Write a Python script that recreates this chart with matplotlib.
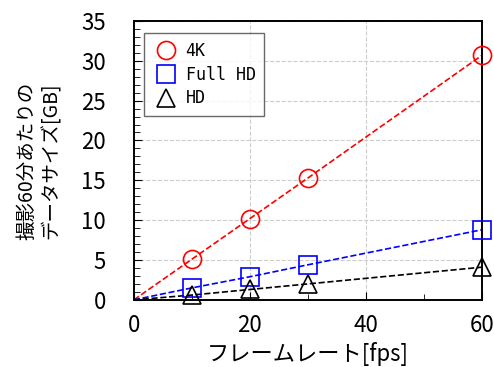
import matplotlib
matplotlib.use('Agg')
import matplotlib.pyplot as plt
from matplotlib.ticker import MultipleLocator

plt.rcParams['font.family'] = ['Noto Sans CJK JP', 'DejaVu Sans']

# Data
fps = [10, 20, 30, 60]
size_4k = [5.1, 10.2, 15.3, 30.7]
size_fhd = [1.5, 2.9, 4.4, 8.8]
size_hd = [0.6, 1.3, 2.0, 4.1]

series = [
    ('4K', size_4k, 'red', 'o'),
    ('Full HD', size_fhd, 'blue', 's'),
    ('HD', size_hd, 'black', '^'),
]

fig = plt.figure(figsize=(4.94, 3.67), dpi=100)
ax = fig.add_axes([0.271, 0.183, 0.705, 0.76])

for label, vals, color, marker in series:
    # dashed fit line through the origin
    ax.plot([0] + fps, [0] + vals, linestyle='--', color=color, linewidth=1.2)
    ax.plot(fps, vals, linestyle='none', marker=marker, markersize=13,
            markerfacecolor='none', markeredgecolor=color, markeredgewidth=1.2,
            label=label, clip_on=False, zorder=5)

ax.set_xlim(0, 60)
ax.set_ylim(0, 35)
ax.xaxis.set_major_locator(MultipleLocator(20))
ax.xaxis.set_minor_locator(MultipleLocator(10))
ax.yaxis.set_major_locator(MultipleLocator(5))
ax.yaxis.set_minor_locator(MultipleLocator(1))
ax.tick_params(which='both', direction='in', top=False, right=False)
ax.tick_params(which='major', length=6, labelsize=16)
ax.tick_params(axis='y', which='major', pad=20)
ax.tick_params(axis='x', which='major', pad=10)
ax.tick_params(which='minor', length=4)
ax.grid(True, which='major', linestyle='--', color='#cccccc', linewidth=0.8)
for s in ax.spines.values():
    s.set_linewidth(1.4)

ax.set_xlabel('フレームレート[fps]', fontsize=16, labelpad=4)
ax.set_ylabel('撮影60分あたりの\nデータサイズ[GB]', fontsize=14, linespacing=1.2,
              labelpad=14)

leg = ax.legend(loc='upper left', fancybox=False, edgecolor='#444444',
                prop={'family': 'DejaVu Sans Mono', 'size': 12},
                handlelength=1.6, handletextpad=0.4, borderpad=0.5,
                labelspacing=0.35, bbox_to_anchor=(0.005, 0.985))
leg.get_frame().set_linewidth(1.0)

fig.savefig('out.png', dpi=100)
